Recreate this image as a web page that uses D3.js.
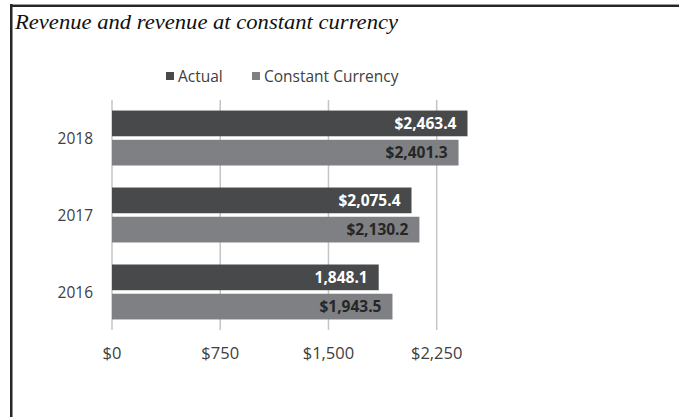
<!DOCTYPE html>
<html>
<head>
<meta charset="UTF-8">
<script src="https://d3js.org/d3.v7.min.js"></script>
<style>
  body { margin: 0; background: #fff; }
  svg { display: block; }
</style>
</head>
<body>
<svg id="chart" width="679" height="417"></svg>
<script>
  // chart data
  const years = ['2018', '2017', '2016'];
  const seriesNames = ['Actual', 'Constant Currency'];
  const actual = [2463.4, 2075.4, 1848.1];
  const constant = [2401.3, 2130.2, 1943.5];
  const actualLabels = ['$2,463.4', '$2,075.4', '1,848.1'];
  const constantLabels = ['$2,401.3', '$2,130.2', '$1,943.5'];
  const ticks = [0, 750, 1500, 2250];
  const tickLabels = ['$0', '$750', '$1,500', '$2,250'];

  const colors = { 'Actual': '#48494b', 'Constant Currency': '#7f8083' };
  const labelColors = { 'Actual': '#ffffff', 'Constant Currency': '#262626' };
  const font = '"Open Sans", sans-serif';

  const svg = d3.select('#chart');

  // frame (top and left edge)
  svg.append('rect').attr('x', 10).attr('y', 4).attr('width', 669).attr('height', 1).attr('fill', '#9a9a9a');
  svg.append('rect').attr('x', 10).attr('y', 5).attr('width', 669).attr('height', 2).attr('fill', '#262626');
  svg.append('rect').attr('x', 10).attr('y', 4).attr('width', 2.5).attr('height', 413).attr('fill', '#262626');

  svg.append('text')
    .attr('x', 15).attr('y', 29)
    .attr('font-family', '"Liberation Serif", serif')
    .attr('font-style', 'italic')
    .attr('font-size', 21)
    .attr('textLength', 383)
    .attr('lengthAdjust', 'spacingAndGlyphs')
    .attr('fill', '#111')
    .text('Revenue and revenue at constant currency');

  const x = d3.scaleLinear().domain([0, 2250]).range([112, 436.7]);
  const y = d3.scaleBand().domain(years).range([100, 330]).paddingInner(0.286).paddingOuter(0.137);
  const ySub = d3.scaleBand().domain(seriesNames).range([0, y.bandwidth()]).paddingInner(0.12);

  // gridlines
  svg.append('g')
    .selectAll('line')
    .data(ticks)
    .join('line')
    .attr('x1', d => x(d)).attr('x2', d => x(d))
    .attr('y1', 100).attr('y2', 330)
    .attr('stroke', '#c4c4c4')
    .attr('stroke-width', 1.5);

  // x tick labels
  svg.append('g')
    .selectAll('text')
    .data(ticks)
    .join('text')
    .attr('x', d => x(d)).attr('y', 359)
    .attr('text-anchor', 'middle')
    .attr('font-family', font).attr('font-size', 16.5)
    .attr('fill', '#404040')
    .text((d, i) => tickLabels[i]);

  // year labels
  svg.append('g')
    .selectAll('text')
    .data(years)
    .join('text')
    .attr('x', 93).attr('y', d => y(d) + y.bandwidth() / 2)
    .attr('dy', '0.36em')
    .attr('text-anchor', 'end')
    .attr('font-family', font).attr('font-size', 15.5)
    .attr('fill', '#404040')
    .text(d => d);

  const rows = [];
  years.forEach((yr, i) => {
    rows.push({ year: yr, series: 'Actual', value: actual[i], label: actualLabels[i] });
    rows.push({ year: yr, series: 'Constant Currency', value: constant[i], label: constantLabels[i] });
  });

  svg.append('g')
    .selectAll('rect')
    .data(rows)
    .join('rect')
    .attr('x', x(0))
    .attr('y', d => y(d.year) + ySub(d.series))
    .attr('width', d => x(d.value) - x(0))
    .attr('height', ySub.bandwidth())
    .attr('fill', d => colors[d.series]);

  svg.append('g')
    .selectAll('text')
    .data(rows)
    .join('text')
    .attr('x', d => x(d.value) - 11)
    .attr('y', d => y(d.year) + ySub(d.series) + ySub.bandwidth() / 2)
    .attr('dy', '0.36em')
    .attr('text-anchor', 'end')
    .attr('font-family', font).attr('font-size', 15.5).attr('font-weight', 'bold')
    .attr('fill', d => labelColors[d.series])
    .text(d => d.label);

  // legend
  const legendX = [166, 252];
  const legend = svg.append('g')
    .selectAll('g')
    .data(seriesNames)
    .join('g')
    .attr('transform', (d, i) => `translate(${legendX[i]},76)`);
  legend.append('rect')
    .attr('x', 0).attr('y', -4).attr('width', 8).attr('height', 8)
    .attr('fill', d => colors[d]);
  legend.append('text')
    .attr('x', 12).attr('y', 0).attr('dy', '0.36em')
    .attr('font-family', font).attr('font-size', 15.5)
    .attr('fill', '#404040')
    .text(d => d);
</script>
</body>
</html>
